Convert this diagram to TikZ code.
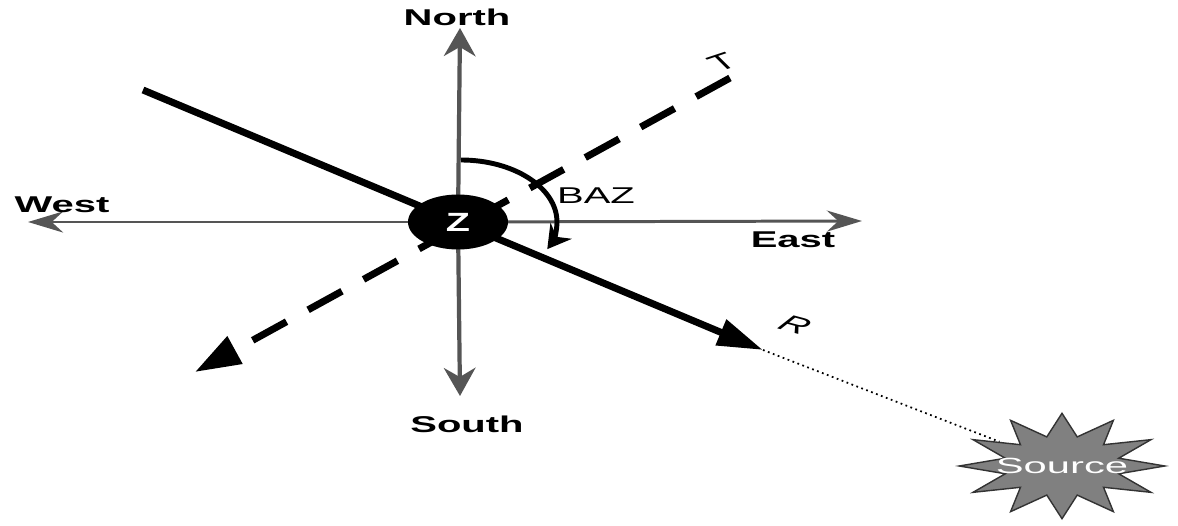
\documentclass[tikz,border=0pt]{standalone}
\usepackage{fontspec}
\setmainfont{Liberation Sans}
\usetikzlibrary{arrows.meta,shapes.geometric}
\definecolor{axgray}{HTML}{555555}
\definecolor{stargray}{HTML}{808080}
\begin{document}
\begin{tikzpicture}[x=0.02cm,y=-0.02cm,
  vaxis/.style={draw=axgray,line width=2.4pt,-{Stealth[length=16pt,width=18pt,fill=axgray]}},
  haxis/.style={draw=axgray,line width=1.7pt,-{Stealth[length=20pt,width=12pt,fill=axgray]}},
  dirlab/.style={font=\fontsize{13}{15}\selectfont\bfseries,xscale=1.75,inner sep=0pt},
  plainlab/.style={font=\fontsize{13}{15}\selectfont,xscale=1.75,inner sep=0pt},
  rline/.style={line width=4pt,-{Triangle[length=26pt,width=15pt]}},
  tline/.style={line width=4pt,dash pattern=on 22pt off 14pt,-{Triangle[length=26pt,width=17pt]}}]
\useasboundingbox (0,0) rectangle (1178,526);
% coordinates
\coordinate (o) at (458,222);
\coordinate (ntip) at (460,28);
\coordinate (stip) at (460,396);
\coordinate (wtip) at (28,222);
\coordinate (etip) at (862,221);
\coordinate (rtail) at (143,90);
\coordinate (rtip) at (763,350);
\coordinate (ttop) at (730,78);
\coordinate (ttip) at (195,372);
\coordinate (bazs) at (461,160);
% axes
\draw[haxis] (o) -- (wtip);
\draw[haxis] (o) -- (etip);
\draw[vaxis] (o) -- (ntip);
\draw[vaxis] (o) -- (stip);
% lines
\draw[tline] (ttop) -- (ttip);
\draw[rline] (rtail) -- (rtip);
% source
\node[star,star points=12,star point ratio=1.75,fill=stargray,draw=black!80,line width=0.8pt,
      minimum size=60pt,inner sep=0pt,xscale=1.95] (src) at (1062,466) {};
\node[text=white,font=\fontsize{12.5}{14}\selectfont,xscale=1.9,inner sep=0pt] (srclab) at (src.center) {Source};
\draw[line width=1pt,dotted] (rtip) -- (src);
% BAZ arc
\draw[line width=2.8pt,-{Stealth[length=13pt,width=15pt]}] (bazs)
  arc[start angle=90,end angle=-26,x radius=1.92cm,y radius=1.24cm];
% centre
\node[ellipse,fill=black,minimum width=2cm,minimum height=1.1cm,inner sep=0pt,
      text=white,font=\fontsize{15}{17}\selectfont\bfseries] (Z) at (o) {\scalebox{1.5}[1]{Z}};
% labels
\node[dirlab] (north) at (457,17) {North};
\node[dirlab] (south) at (467,424) {South};
\node[dirlab] (west) at (62,205) {West};
\node[dirlab] (east) at (793,240) {East};
\node[plainlab] (baz) at (596,196) {BAZ};
\node[plainlab,rotate=30] (tlab) at (722,62) {T};
\node[plainlab,rotate=-25] (rlab) at (795,325) {\itshape R};
\end{tikzpicture}
\end{document}
